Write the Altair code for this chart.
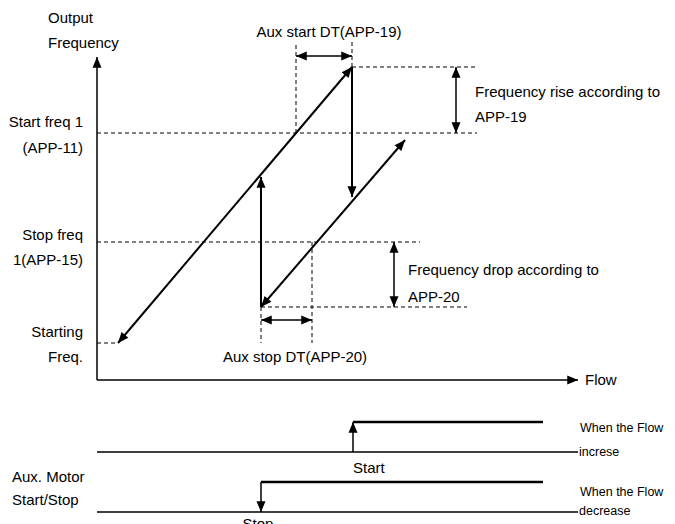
import math
import altair as alt
import pandas as pd

# Diagram coordinates: x = Flow units, y = Output frequency units (origin at axis corner)
# Frequency levels
F_PEAK, F_START1, F_STOP1, F_TROUGH, F_STARTING = 313, 247, 138, 73, 37

# ---- solid line segments: x, y, x2, y2, width, heads ----
seg_x  = [21, 164, 255, 164, 199, 359, 297, 164, 0, 0, 256, 164]
seg_y  = [F_STARTING, F_TROUGH, F_PEAK, F_TROUGH, 324, F_PEAK, F_STOP1, 60, 0, 0, -72, -102]
seg_x2 = [255, 308, 255, 164, 255, 359, 297, 215, 0, 481, 256, 164]
seg_y2 = [F_PEAK, 240, 183, 203, 324, F_START1, F_TROUGH, 60, 323, 0, -42, -132]
seg_w  = [2, 2, 2, 2, 1.5, 1.5, 1.5, 1.5, 1.5, 1.5, 1.5, 1.5]
seg_head = ["both", "both", "end", "end", "both", "both", "both", "both", "end", "end", "end", "end"]

# ---- dashed guide lines ----
dash_x  = [255, 0, 0, 164, 0, 199, 255, 164, 215]
dash_y  = [F_PEAK, F_START1, F_STOP1, F_TROUGH, F_STARTING, F_START1, F_PEAK, F_TROUGH, F_STOP1]
dash_x2 = [380, 380, 323, 370, 21, 199, 255, 164, 215]
dash_y2 = [F_PEAK, F_START1, F_STOP1, F_TROUGH, F_STARTING, 337, 338, 37, 37]

# ---- Aux motor timing lines ----
base_x  = [0, 0]
base_y  = [-72, -132]
base_x2 = [481, 481]
state_x  = [256, 164]
state_y  = [-42, -102]
state_x2 = [446, 446]

# ---- labels ----
lab_left = ["Output", "Frequency", "Frequency rise  according to", "APP-19",
            "Frequency drop according to", "APP-20", "Flow", "Aux. Motor", "Start/Stop", "Start"]
lab_left_x = [-49, -49, 378, 378, 311, 311, 488, -85, -85, 256]
lab_left_y = [362, 337, 288, 263, 110, 83, 0, -97, -120, -88]

lab_small = ["When the Flow", "increse", "When the Flow", "decrease"]
lab_small_x = [483, 482, 483, 482]
lab_small_y = [-48, -72, -112, -131]

lab_right = ["Start freq 1", "(APP-11)", "Stop freq", "1(APP-15)", "Starting", "Freq."]
lab_right_x = [-14] * 6
lab_right_y = [258, 232, 145, 120, 48, 23]

lab_center = ["Aux start DT(APP-19)", "Aux stop DT(APP-20)", "Stop"]
lab_center_x = [232, 198, 161]
lab_center_y = [348, 23, -144]

FONT = "Liberation Sans, Arial, sans-serif"

segs = pd.DataFrame({"x": seg_x, "y": seg_y, "x2": seg_x2, "y2": seg_y2, "w": seg_w, "head": seg_head})
dashes = pd.DataFrame({"x": dash_x, "y": dash_y, "x2": dash_x2, "y2": dash_y2})
bases = pd.DataFrame({"x": base_x, "y": base_y, "x2": base_x2, "y2": base_y})
states = pd.DataFrame({"x": state_x, "y": state_y, "x2": state_x2, "y2": state_y})

heads = []
for r in segs.itertuples():
    dx, dy = r.x2 - r.x, r.y2 - r.y
    if r.head in ("end", "both"):
        heads.append({"x": r.x2, "y": r.y2, "angle": math.degrees(math.atan2(dx, dy)) % 360})
    if r.head == "both":
        heads.append({"x": r.x, "y": r.y, "angle": math.degrees(math.atan2(-dx, -dy)) % 360})
heads = pd.DataFrame(heads)

xs = alt.Scale(domain=[-89, 570])
ys = alt.Scale(domain=[-144, 372])
X = alt.X("x:Q", scale=xs, axis=None)
Y = alt.Y("y:Q", scale=ys, axis=None)

def rules(df, width, dash=None):
    kw = dict(color="black", strokeWidth=width)
    if dash:
        kw["strokeDash"] = dash
    return alt.Chart(df).mark_rule(**kw).encode(x=X, y=Y, x2="x2:Q", y2="y2:Q")

solid_thick = rules(segs[segs.w == 2], 2)
solid_thin = rules(segs[segs.w == 1.5], 1.5)
dashed = rules(dashes, 1, [4, 3])
base_lines = rules(bases, 1.3)
state_lines = rules(states, 2.6)

arrow = alt.Chart(heads).mark_point(
    shape="M0,0L-0.42,1L0.42,1Z", filled=True, color="black", opacity=1, size=460, strokeWidth=0
).encode(x=X, y=Y, angle=alt.Angle("angle:Q", scale=None))

def texts(labels, xv, yv, align, size=15):
    df = pd.DataFrame({"label": labels, "x": xv, "y": yv})
    return alt.Chart(df).mark_text(
        align=align, baseline="middle", font=FONT, fontSize=size, color="black"
    ).encode(x=X, y=Y, text="label:N")

chart = alt.layer(
    dashed, solid_thick, solid_thin, base_lines, state_lines, arrow,
    texts(lab_left, lab_left_x, lab_left_y, "left"),
    texts(lab_small, lab_small_x, lab_small_y, "left", 12.5),
    texts(lab_right, lab_right_x, lab_right_y, "right"),
    texts(lab_center, lab_center_x, lab_center_y, "center"),
).properties(
    width=659, height=516, padding=0, background="white",
    autosize=alt.AutoSizeParams(type="none"),
).configure_view(stroke=None)

chart.save("out.html", embed_options={"renderer": "svg", "actions": False})
